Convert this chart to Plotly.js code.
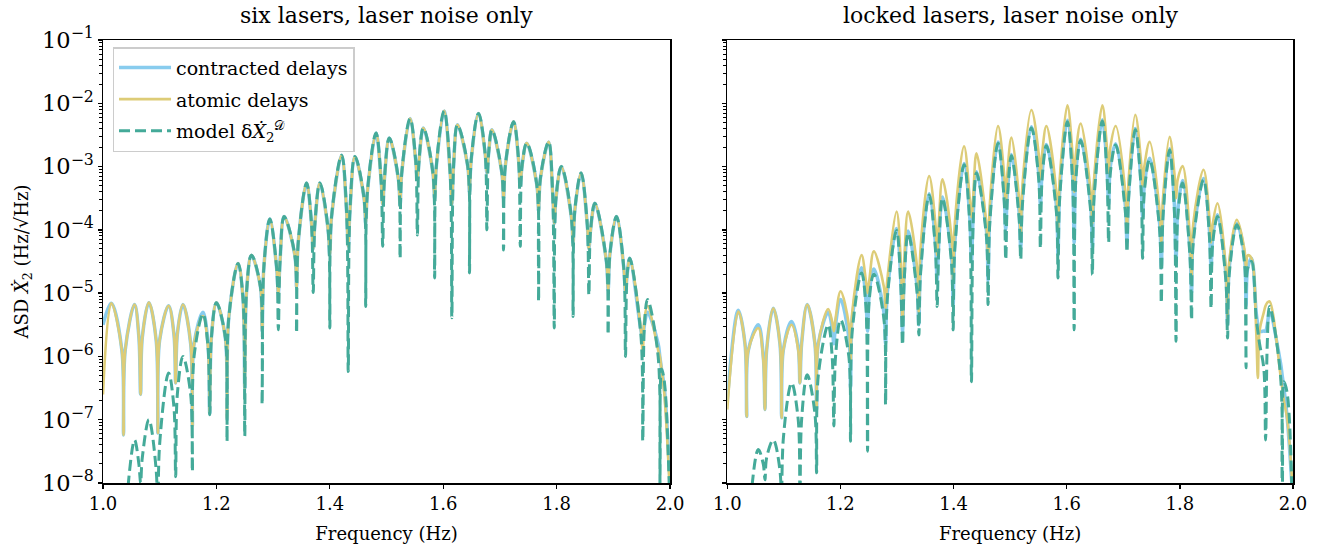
<!DOCTYPE html>
<html>
<head>
<meta charset="utf-8">
<script src="https://cdn.plot.ly/plotly-3.0.1.min.js"></script>
<style>html,body{margin:0;padding:0;background:#fff;}#chart{width:1333px;height:550px;}</style>
</head>
<body>
<div id="chart"></div>
<script>
// ---- Data (values are log10 of the ASD in Hz/sqrt(Hz)) ----
const freqLeft = [
1.000, 1.0145, 1.0332, 1.0362, 1.0392, 1.0557, 1.0633, 1.0663, 1.0693, 1.0809,
1.0938, 1.0968, 1.0998, 1.1157, 1.1251, 1.1281, 1.1311, 1.1410, 1.1546, 1.1576,
1.1606, 1.1763, 1.1852, 1.1882, 1.1912, 1.2000, 1.2157, 1.2187, 1.2217, 1.2382,
1.2470, 1.2500, 1.2530, 1.2618, 1.2776, 1.2806, 1.2836, 1.2942, 1.3062, 1.3092,
1.3122, 1.3194, 1.3383, 1.3413, 1.3443, 1.3590, 1.3677, 1.3707, 1.3737, 1.3825,
1.3970, 1.4000, 1.4030, 1.4208, 1.4295, 1.4325, 1.4355, 1.4443, 1.4603, 1.4633,
1.4663, 1.4815, 1.4903, 1.4933, 1.4963, 1.5049, 1.5209, 1.5239, 1.5269, 1.5415,
1.5514, 1.5544, 1.5574, 1.5650, 1.5818, 1.5848, 1.5878, 1.6016, 1.6122, 1.6152,
1.6182, 1.6251, 1.6433, 1.6463, 1.6493, 1.6622, 1.6740, 1.6770, 1.6800, 1.6859,
1.7034, 1.7064, 1.7094, 1.7240, 1.7329, 1.7359, 1.7389, 1.7473, 1.7652, 1.7682,
1.7712, 1.7859, 1.7929, 1.7959, 1.7989, 1.8083, 1.8260, 1.8290, 1.8320, 1.8431,
1.8539, 1.8569, 1.8599, 1.8675, 1.8878, 1.8908, 1.8938, 1.9055, 1.9184, 1.9214,
1.9244, 1.9290, 1.9489, 1.9519, 1.9549, 1.9603, 1.9790, 1.9820, 1.9850, 1.9900,
2.000];

const contractedLeftLog = [
-5.5, -5.16, -5.9, -7.24, -5.9, -5.18, -5.7, -6.6, -5.7, -5.15,
-5.75, -7.21, -5.75, -5.2, -5.65, -6.42, -5.65, -5.18, -5.8, -7.1,
-5.8, -5.3, -5.8, -6.9, -5.7, -5.15, -5.7, -7.0, -5.4, -4.53,
-5.1, -6.5, -5.0, -4.40, -4.9, -5.6, -4.6, -3.83, -4.6, -5.0,
-4.5, -3.79, -4.4, -4.9, -4.2, -3.26, -3.9, -4.3, -3.9, -3.26,
-4.0, -4.4, -3.8, -2.82, -3.7, -4.26, -3.7, -2.84, -3.5, -3.9,
-3.4, -2.47, -3.2, -3.6, -3.2, -2.55, -3.2, -3.6, -3.1, -2.24,
-2.9, -3.2, -2.9, -2.39, -3.1, -3.5, -3.0, -2.12, -3.1, -3.6,
-3.0, -2.34, -3.0, -3.4, -2.9, -2.16, -2.8, -3.1, -2.8, -2.42,
-3.1, -3.5, -3.0, -2.29, -2.9, -3.3, -3.0, -2.63, -3.3, -3.7,
-3.2, -2.61, -3.4, -3.9, -3.5, -3.0, -3.8, -4.2, -3.7, -3.1,
-3.9, -4.3, -4.0, -3.58, -4.5, -4.95, -4.4, -3.79, -4.6, -5.0,
-4.7, -4.45, -5.6, -5.7, -5.5, -5.3, -5.8, -6.0, -6.2, -6.5,
-8.0];

const atomicLeftLog = [
-6.6, -5.16, -5.9, -7.24, -5.9, -5.18, -5.7, -6.6, -5.7, -5.15,
-5.75, -7.21, -5.75, -5.2, -5.65, -6.42, -5.65, -5.18, -5.8, -7.1,
-5.8, -5.36, -5.85, -6.9, -5.7, -5.15, -5.7, -7.0, -5.4, -4.53,
-5.1, -6.5, -5.0, -4.40, -4.9, -5.6, -4.6, -3.83, -4.6, -5.0,
-4.5, -3.79, -4.4, -4.9, -4.2, -3.26, -3.9, -4.3, -3.9, -3.26,
-4.0, -4.4, -3.8, -2.82, -3.7, -4.26, -3.7, -2.84, -3.5, -3.9,
-3.4, -2.47, -3.2, -3.6, -3.2, -2.55, -3.2, -3.6, -3.1, -2.24,
-2.9, -3.2, -2.9, -2.39, -3.1, -3.5, -3.0, -2.12, -3.1, -3.6,
-3.0, -2.34, -3.0, -3.4, -2.9, -2.16, -2.8, -3.1, -2.8, -2.42,
-3.1, -3.5, -3.0, -2.29, -2.9, -3.3, -3.0, -2.63, -3.3, -3.7,
-3.2, -2.61, -3.4, -3.9, -3.5, -3.0, -3.8, -4.2, -3.7, -3.1,
-3.9, -4.3, -4.0, -3.58, -4.5, -4.95, -4.4, -3.79, -4.6, -5.0,
-4.7, -4.45, -5.6, -6.0, -5.4, -5.2, -5.9, -6.0, -6.2, -6.6,
-8.2];

const modelLeftLog = [
-9.5, -9.5, -9.5, -9.5, -8.6, -7.32, -7.7, -8.0, -7.6, -7.0,
-7.8, -9.0, -7.4, -6.26, -6.8, -7.9, -6.6, -6.0, -6.6, -7.82,
-6.0, -5.33, -5.85, -6.92, -5.7, -5.15, -5.7, -7.34, -5.4, -4.53,
-5.1, -7.26, -5.0, -4.40, -4.9, -6.76, -4.6, -3.83, -4.6, -5.58,
-4.5, -3.79, -4.4, -5.63, -4.2, -3.26, -3.9, -4.99, -3.9, -3.26,
-4.0, -5.55, -3.8, -2.82, -3.7, -6.24, -3.7, -2.84, -3.5, -5.21,
-3.4, -2.47, -3.2, -4.26, -3.2, -2.55, -3.2, -4.45, -3.1, -2.24,
-2.9, -4.08, -2.9, -2.39, -3.1, -4.76, -3.0, -2.12, -3.1, -5.39,
-3.0, -2.34, -3.0, -4.68, -2.9, -2.16, -2.8, -4.0, -2.8, -2.42,
-3.1, -4.32, -3.0, -2.29, -2.9, -4.26, -3.0, -2.63, -3.3, -5.13,
-3.2, -2.61, -3.4, -5.55, -3.5, -3.0, -3.8, -5.37, -3.7, -3.1,
-3.9, -5.03, -4.0, -3.58, -4.5, -5.66, -4.4, -3.79, -4.6, -6.0,
-4.7, -4.45, -5.7, -7.34, -5.5, -5.1, -6.0, -8.5, -6.2, -6.4,
-8.5];

const freqRight = [
1.0000, 1.0194, 1.0313, 1.0343, 1.0373, 1.0548, 1.0636, 1.0666, 1.0696, 1.0812,
1.0931, 1.0961, 1.0991, 1.1137, 1.1254, 1.1284, 1.1314, 1.1413, 1.1549, 1.1579,
1.1609, 1.1784, 1.1854, 1.1884, 1.1914, 1.2003, 1.2149, 1.2179, 1.2209, 1.2374,
1.2450, 1.2480, 1.2510, 1.2591, 1.2768, 1.2798, 1.2828, 1.2992, 1.3068, 1.3098,
1.3128, 1.3197, 1.3356, 1.3386, 1.3416, 1.3568, 1.3679, 1.3709, 1.3739, 1.3804,
1.3962, 1.3992, 1.4022, 1.4186, 1.4286, 1.4316, 1.4346, 1.4405, 1.4580, 1.4610,
1.4640, 1.4786, 1.4892, 1.4922, 1.4952, 1.5023, 1.5157, 1.5187, 1.5217, 1.5376,
1.5505, 1.5535, 1.5565, 1.5641, 1.5816, 1.5846, 1.5876, 1.6012, 1.6102, 1.6132,
1.6162, 1.6247, 1.6423, 1.6453, 1.6483, 1.6630, 1.6711, 1.6741, 1.6771, 1.6865,
1.7035, 1.7065, 1.7095, 1.7213, 1.7312, 1.7342, 1.7372, 1.7466, 1.7642, 1.7672,
1.7702, 1.7819, 1.7903, 1.7933, 1.7963, 1.8048, 1.8177, 1.8207, 1.8237, 1.8419,
1.8522, 1.8552, 1.8582, 1.8666, 1.8813, 1.8843, 1.8873, 1.9007, 1.9140, 1.9170,
1.9200, 1.9267, 1.9349, 1.9379, 1.9409, 1.9485, 1.9515, 1.9545, 1.9585, 1.9779,
1.9809, 1.9839, 1.9900, 2.0000];

const contractedRightLog = [
-6.7, -5.27, -5.8, -6.95, -5.9, -5.5, -6.0, -6.84, -5.9, -5.24,
-5.8, -6.97, -5.9, -5.45, -5.85, -6.42, -5.8, -5.18, -5.8, -6.84,
-5.8, -5.3, -5.55, -5.8, -5.5, -5.1, -5.7, -6.5, -5.4, -4.6,
-5.1, -5.6, -5.0, -4.62, -5.3, -5.8, -5.0, -3.98, -4.8, -5.6,
-4.7, -4.02, -4.9, -5.5, -4.6, -3.43, -4.2, -4.8, -4.2, -3.48,
-4.4, -5.2, -4.2, -2.95, -3.8, -4.5, -3.8, -3.08, -4.0, -4.8,
-3.8, -2.61, -3.4, -4.0, -3.4, -2.81, -3.7, -4.3, -3.5, -2.37,
-3.1, -3.6, -3.1, -2.65, -3.6, -4.4, -3.4, -2.27, -3.1, -4.2,
-3.1, -2.57, -3.6, -4.3, -3.4, -2.26, -3.0, -3.6, -3.0, -2.64,
-3.6, -4.2, -3.4, -2.40, -3.2, -3.8, -3.3, -2.87, -3.9, -4.6,
-3.7, -2.72, -3.6, -4.5, -3.7, -3.22, -4.3, -5.0, -4.1, -3.19,
-4.0, -4.6, -4.1, -3.76, -4.7, -5.5, -4.6, -3.9, -4.4, -5.2,
-4.6, -4.45, -5.3, -5.5, -5.6, -5.6, -5.6, -5.5, -5.3, -6.1,
-6.3, -6.5, -7.0, -8.3];

const atomicRightLog = [
-6.84, -5.29, -5.8, -6.95, -5.9, -5.55, -6.05, -6.84, -5.9, -5.24,
-5.8, -6.97, -5.9, -5.5, -5.9, -6.42, -5.8, -5.18, -5.8, -6.84,
-5.8, -5.25, -5.45, -5.6, -5.4, -4.97, -5.5, -6.1, -5.3, -4.40,
-4.8, -5.0, -4.8, -4.34, -4.9, -5.23, -4.8, -3.71, -4.5, -5.5,
-4.5, -3.71, -4.6, -5.3, -4.3, -3.15, -3.9, -4.4, -3.9, -3.2,
-4.1, -4.8, -3.9, -2.68, -3.5, -3.8, -3.5, -2.79, -3.9, -4.5,
-3.6, -2.36, -3.1, -3.6, -3.1, -2.54, -3.5, -4.1, -3.3, -2.105,
-2.8, -3.2, -2.8, -2.36, -3.4, -4.0, -3.2, -2.03, -2.8, -3.4,
-2.8, -2.32, -3.4, -3.9, -3.2, -2.03, -2.7, -3.1, -2.7, -2.36,
-3.4, -4.0, -3.2, -2.18, -2.9, -3.3, -3.0, -2.61, -3.7, -4.2,
-3.5, -2.53, -3.1, -3.5, -3.2, -2.99, -4.1, -4.76, -3.9, -3.05,
-3.8, -4.2, -3.9, -3.58, -4.6, -5.4, -4.5, -3.84, -4.3, -4.6,
-4.4, -4.45, -5.6, -6.34, -5.6, -5.3, -5.2, -5.15, -5.13, -6.3,
-6.5, -6.7, -7.0, -8.2];

const modelRightLog = [
-9.5, -9.5, -9.5, -9.5, -8.7, -7.47, -7.7, -7.95, -7.6, -7.32,
-7.8, -9.0, -7.3, -6.42, -7.0, -8.3, -7.0, -6.29, -6.9, -7.84,
-6.3, -5.5, -6.0, -7.1, -6.0, -5.42, -6.0, -7.34, -5.6, -4.68,
-5.2, -7.5, -5.1, -4.7, -5.4, -6.76, -5.1, -4.01, -4.9, -5.82,
-4.8, -4.05, -5.0, -5.66, -4.7, -3.45, -4.3, -5.21, -4.3, -3.5,
-4.5, -5.58, -4.3, -2.97, -3.9, -6.4, -3.9, -3.1, -4.1, -5.18,
-3.9, -2.63, -3.5, -4.47, -3.5, -2.83, -3.8, -4.47, -3.6, -2.39,
-3.2, -4.29, -3.2, -2.67, -3.7, -4.76, -3.5, -2.29, -3.2, -5.58,
-3.2, -2.59, -3.7, -4.71, -3.5, -2.28, -3.1, -4.2, -3.1, -2.66,
-3.7, -4.35, -3.5, -2.42, -3.3, -4.45, -3.4, -2.89, -4.0, -5.16,
-3.8, -2.74, -3.7, -5.76, -3.8, -3.26, -4.4, -5.42, -4.2, -3.21,
-4.1, -5.24, -4.2, -3.79, -4.8, -5.71, -4.7, -3.92, -4.5, -6.18,
-4.6, -4.5, -5.4, -5.6, -5.8, -6.2, -7.32, -5.8, -5.21, -6.3,
-9.0, -6.4, -6.6, -9.0];

const seriesNames = ['contracted delays', 'atomic delays', 'model δ<i>Ẋ</i><sub>2</sub><sup>𝒟</sup>'];
const panelTitles = ['six lasers, laser noise only', 'locked lasers, laser noise only'];
const xTickVals = [1.0, 1.2, 1.4, 1.6, 1.8, 2.0];
const xTickText = ['1.0', '1.2', '1.4', '1.6', '1.8', '2.0'];

// ---- Styles ----
const colors = ['#88CCEE', '#DDCC77', '#44AA99'];
const widths = [3.5, 2.6, 3];
const dashes = ['solid', 'solid', '11px,5px'];
const toASD = arr => arr.map(v => Math.pow(10, v));

const panels = [
  {x: freqLeft, ys: [contractedLeftLog, atomicLeftLog, modelLeftLog], xa: 'x', ya: 'y', legend: true},
  {x: freqRight, ys: [contractedRightLog, atomicRightLog, modelRightLog], xa: 'x2', ya: 'y2', legend: false}
];

const traces = [];
panels.forEach(p => {
  p.ys.forEach((ylog, i) => {
    traces.push({
      type: 'scatter', mode: 'lines',
      x: p.x, y: toASD(ylog),
      xaxis: p.xa, yaxis: p.ya,
      name: seriesNames[i],
      legendgroup: 'g' + i,
      showlegend: p.legend,
      line: {color: colors[i], width: widths[i], dash: dashes[i], shape: 'spline', smoothing: 1},
      hoverinfo: 'skip'
    });
  });
});

const FONT = 'DejaVu Serif';
const TXT = {family: FONT, size: 18, color: '#000'};
const baseX = {
  range: [1, 2], tickvals: xTickVals, ticktext: xTickText,
  ticks: 'outside', ticklen: 4, tickwidth: 1.3, tickcolor: '#000',
  showline: true, linecolor: '#000', linewidth: 1.5, mirror: true,
  showgrid: false, zeroline: false,
  tickfont: TXT,
  title: {text: 'Frequency (Hz)', font: TXT, standoff: 14}
};
const baseY = {
  type: 'log', range: [-8, -1], dtick: 1, exponentformat: 'power',
  ticks: 'outside', ticklen: 4, tickwidth: 1.3, tickcolor: '#000',
  minor: {ticks: 'outside', ticklen: 2.5, tickwidth: 1, tickcolor: '#000', dtick: 'D1', showgrid: false},
  showline: true, linecolor: '#000', linewidth: 1.5, mirror: true,
  showgrid: false, zeroline: false,
  tickfont: TXT
};
// second set of axes drawn on top so that ticks cross the spines (in and out)
const overX = {range: [1, 2], tickvals: xTickVals, ticks: 'inside', ticklen: 3.5, tickwidth: 1.3, tickcolor: '#000',
  showticklabels: false, showline: false, showgrid: false, zeroline: false};
const overY = {type: 'log', range: [-8, -1], dtick: 1, ticks: 'inside', ticklen: 3.5, tickwidth: 1.3, tickcolor: '#000',
  minor: {ticks: 'inside', ticklen: 2, tickwidth: 1, tickcolor: '#000', dtick: 'D1', showgrid: false},
  showticklabels: false, showline: false, showgrid: false, zeroline: false};

const dL = [0, 0.4765], dR = [0.5246, 1];
const layout = {
  width: 1333, height: 550,
  margin: {l: 103, r: 40, t: 40, b: 67},
  paper_bgcolor: '#fff', plot_bgcolor: '#fff',
  font: TXT,
  showlegend: true,
  legend: {x: 0.008, y: 0.984, xanchor: 'left', yanchor: 'top', bgcolor: 'rgba(255,255,255,0.85)', bordercolor: '#cccccc', borderwidth: 1.5,
    font: {family: FONT, size: 19, color: '#000'}, tracegroupgap: 4, itemwidth: 52},
  xaxis: Object.assign({}, baseX, {domain: dL, anchor: 'y'}),
  yaxis: Object.assign({}, baseY, {domain: [0, 1], anchor: 'x', title: {text: 'ASD <i>Ẋ</i><sub>2</sub> (Hz/√Hz)', font: TXT, standoff: 8}}),
  xaxis2: Object.assign({}, baseX, {domain: dR, anchor: 'y2'}),
  yaxis2: Object.assign({}, baseY, {domain: [0, 1], anchor: 'x2', showticklabels: false}),
  xaxis3: Object.assign({}, overX, {overlaying: 'x', anchor: 'y'}),
  yaxis3: Object.assign({}, overY, {overlaying: 'y', anchor: 'x'}),
  xaxis4: Object.assign({}, overX, {overlaying: 'x2', anchor: 'y2'}),
  yaxis4: Object.assign({}, overY, {overlaying: 'y2', anchor: 'x2'}),
  annotations: [
    {text: panelTitles[0], xref: 'paper', yref: 'paper', x: 0.2383, y: 1.055, xanchor: 'center', yanchor: 'middle', showarrow: false, font: {family: FONT, size: 22, color: '#000'}},
    {text: panelTitles[1], xref: 'paper', yref: 'paper', x: 0.7623, y: 1.055, xanchor: 'center', yanchor: 'middle', showarrow: false, font: {family: FONT, size: 22, color: '#000'}}
  ]
};

Plotly.newPlot('chart', traces, layout, {displayModeBar: false, staticPlot: true});
</script>
</body>
</html>
